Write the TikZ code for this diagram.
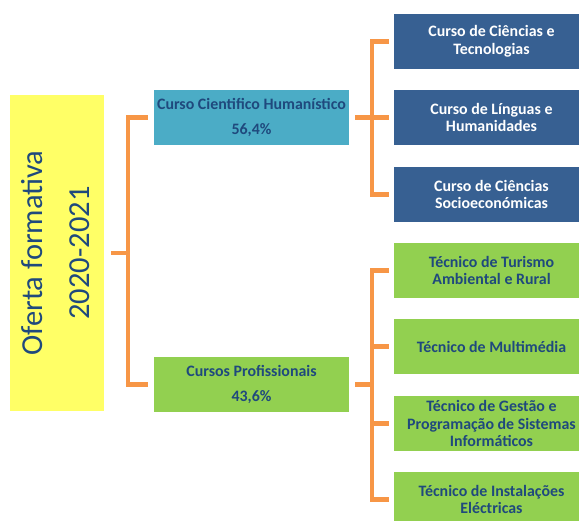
\documentclass[tikz,border=0pt]{standalone}
\usepackage{fontspec}
\setmainfont{Carlito}
\definecolor{txtblue}{HTML}{1F497D}
\definecolor{yelfill}{HTML}{FFFF66}
\definecolor{cyanfill}{HTML}{4BACC6}
\definecolor{darkfill}{HTML}{376092}
\definecolor{greenfill}{HTML}{92D050}
\definecolor{orangeln}{HTML}{F79646}
\begin{document}
\begin{tikzpicture}[x=1pt,y=-1pt,
  box/.style={minimum width=195pt,minimum height=55pt,inner sep=0pt,align=center,
    font=\bfseries\fontsize{15.9}{17.5}\selectfont},
  midbox/.style={box,font=\bfseries\fontsize{15.9}{25}\selectfont,text=txtblue},
  darkbox/.style={box,fill=darkfill,text=white},
  greenbox/.style={box,fill=greenfill,text=txtblue},
  conn/.style={draw=orangeln,line width=4.5pt}]
\useasboundingbox (0,0) rectangle (579,521);
\node[fill=yelfill,minimum width=94pt,minimum height=316pt,inner sep=0pt] (yel) at (57,253) {};
\node[rotate=90,text=txtblue,align=center,font=\fontsize{30.5}{47}\selectfont] (ytxt) at (56,253) {Oferta formativa\\2020-2021};
\node[midbox,fill=cyanfill] (ch) at (251.5,117.5) {Curso Cientifico Humanístico\\56,4\%};
\node[midbox,fill=greenfill] (cp) at (251.5,384.5) {Cursos Profissionais\\43,6\%};
\node[darkbox] (r1) at (491.5,41.5) {Curso de Ciências e\\Tecnologias};
\node[darkbox] (r2) at (491.5,117.5) {Curso de Línguas e\\Humanidades};
\node[darkbox] (r3) at (491.5,194.5) {Curso de Ciências\\Socioeconómicas};
\node[greenbox] (g1) at (491.5,270.5) {Técnico de Turismo\\Ambiental e Rural};
\node[greenbox] (g2) at (491.5,346.5) {Técnico de Multimédia};
\node[greenbox] (g3) at (491.5,423.5) {Técnico de Gestão e\\Programação de Sistemas\\Informáticos};
\node[greenbox] (g4) at (491.5,499.5) {Técnico de Instalações\\Eléctricas};
% left bracket
\draw[conn] ([xshift=-6pt]ch.west) -- ++(-20,0) |- ([xshift=-6pt]cp.west);
\draw[conn] ([xshift=7pt]yel.east) -- ++(18,0);
% right top bracket
\draw[conn] ([xshift=-5pt]r1.west) -- ++(-17,0) |- ([xshift=-5pt]r3.west);
\draw[conn] ([xshift=6pt]ch.east) -- ([xshift=-5pt]r2.west);
% right bottom bracket
\draw[conn] ([xshift=-5pt]g1.west) -- ++(-17,0) |- ([xshift=-5pt]g4.west);
\draw[conn] ([xshift=-5pt]g2.west) -- ++(-17,0);
\draw[conn] ([xshift=-5pt]g3.west) -- ++(-17,0);
\draw[conn] ([xshift=6pt]cp.east) -- ++(17,0);
\end{tikzpicture}
\end{document}
